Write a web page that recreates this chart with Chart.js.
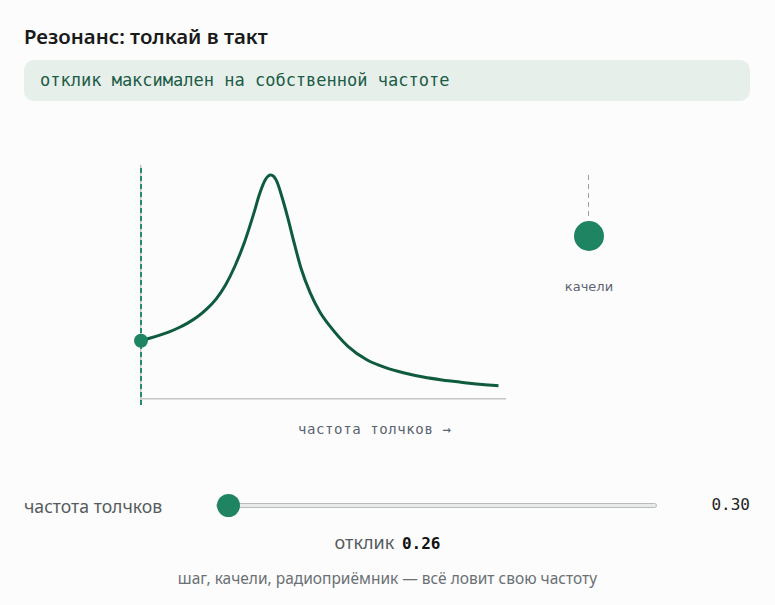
<!DOCTYPE html>
<html lang="ru">
<head>
<meta charset="utf-8">
<title>Резонанс</title>
<script src="https://cdn.jsdelivr.net/npm/chart.js@4.4.1/dist/chart.umd.min.js"></script>
<style>
  html, body { margin: 0; padding: 0; }
  body {
    width: 775px; height: 605px; position: relative; overflow: hidden;
    background: #fbfcfb;
    font-family: "Noto Sans", sans-serif;
  }
  .mono { font-family: "DejaVu Sans Mono", monospace; }
  #title { position: absolute; left: 24px; top: 22px; font-size: 20.4px; font-weight: 600; color: #1a1a1a; }
  #note {
    position: absolute; left: 24px; top: 60px; width: 726px; height: 41px;
    background: #e6efea; border-radius: 10px;
    box-sizing: border-box; padding-left: 16px; line-height: 41px;
    font-size: 17px; color: #1d5c47;
  }
  #chartBox { position: absolute; left: 121px; top: 150px; width: 400px; height: 270px; }
  #xTitle { position: absolute; left: 298px; top: 421px; font-size: 14px; letter-spacing: 0.6px; color: #5b6370; }
  #rope { position: absolute; left: 588px; top: 175px; width: 1px; height: 44px;
    background: repeating-linear-gradient(to bottom, #9a9fa4 0 5px, transparent 5px 9px); }
  #bob { position: absolute; left: 574px; top: 221px; width: 30px; height: 30px; border-radius: 50%; background: #1e8462; }
  #bobLabel { position: absolute; left: 539px; width: 100px; text-align: center; top: 279px; font-size: 13px; color: #5b6370;
    font-family: "DejaVu Sans", sans-serif; }
  #freqLabel { position: absolute; left: 24px; top: 494px; font-size: 17.6px; color: #555b60; }
  #freq {
    position: absolute; left: 216px; top: 494px; width: 441px; height: 22px; margin: 0;
    -webkit-appearance: none; appearance: none; background: transparent;
  }
  #freq::-webkit-slider-runnable-track {
    height: 5px; background: #e9eaea; border: 1px solid #b9bcbc; border-radius: 4px; box-sizing: border-box;
  }
  #freq::-webkit-slider-thumb {
    -webkit-appearance: none; width: 23px; height: 23px; border-radius: 50%; background: #1e8462; border: none; margin-top: -10px;
  }
  #freqVal { position: absolute; right: 25px; top: 495px; font-size: 16px; color: #222; }
  #resp { position: absolute; left: 0; width: 775px; text-align: center; top: 530px; font-size: 18px; color: #555b60; }
  #resp b { font-size: 16px; color: #111; margin-left: 3px; }
  #foot { position: absolute; left: 0; width: 775px; text-align: center; top: 567px; font-size: 15.5px; color: #6b7075; }
</style>
</head>
<body>
<div id="title">Резонанс: толкай в такт</div>
<div id="note" class="mono">отклик максимален на собственной частоте</div>
<div id="chartBox"><canvas id="resonanceChart" width="400" height="270"></canvas></div>
<div id="xTitle" class="mono">частота толчков →</div>
<div id="rope"></div>
<div id="bob"></div>
<div id="bobLabel">качели</div>
<div id="freqLabel">частота толчков</div>
<input id="freq" type="range" min="0.3" max="2.2" step="0.01" value="0.3">
<div id="freqVal" class="mono">0.30</div>
<div id="resp">отклик <b class="mono" id="respVal">0.26</b></div>
<div id="foot">шаг, качели, радиоприёмник — всё ловит свою частоту</div>

<script>
// push frequency (x) and amplitude response (y)
const frequencies = [0.3, 0.35, 0.4, 0.45, 0.5, 0.55, 0.6, 0.65, 0.7, 0.75, 0.8, 0.85, 0.9, 0.93, 0.96, 0.99,
  1.02, 1.05, 1.08, 1.11, 1.15, 1.2, 1.25, 1.3, 1.4, 1.5, 1.6, 1.7, 1.8, 1.9, 2.0, 2.1, 2.2];
const responses = [0.26, 0.272, 0.285, 0.30, 0.318, 0.34, 0.367, 0.402, 0.447, 0.51, 0.595, 0.70, 0.83, 0.915, 0.978, 1.0,
  0.975, 0.9, 0.81, 0.71, 0.585, 0.473, 0.39, 0.33, 0.235, 0.175, 0.14, 0.116, 0.098, 0.085, 0.075, 0.066, 0.059];

const freqMin = 0.3;
const freqMax = 2.24;
const respMin = -0.027;
const respMax = 1.045;

let pushFreq = 0.3;
let pushResp = 0.26;

document.addEventListener('DOMContentLoaded', function () {
  const ctx = document.getElementById('resonanceChart').getContext('2d');
  const slider = document.getElementById('freq');

  const curve = frequencies.map((f, i) => ({ x: f, y: responses[i] }));

  const chart = new Chart(ctx, {
    type: 'line',
    data: {
      datasets: [
        {
          label: 'толчок',
          data: [{ x: pushFreq, y: respMin }, { x: pushFreq, y: respMax }],
          borderColor: '#2a8a68',
          borderWidth: 2,
          borderDash: [5, 3],
          pointRadius: 0,
          order: 2
        },
        {
          label: 'отклик',
          data: curve,
          borderColor: '#0e5b3e',
          borderWidth: 3,
          pointRadius: 0,
          cubicInterpolationMode: 'monotone',
          order: 1
        },
        {
          label: 'сейчас',
          data: [{ x: pushFreq, y: pushResp }],
          pointRadius: 7,
          pointBackgroundColor: '#1e8462',
          pointBorderWidth: 0,
          showLine: false,
          order: 0
        }
      ]
    },
    options: {
      responsive: false,
      animation: false,
      clip: false,
      layout: { padding: { left: 20, top: 15, right: 15, bottom: 15 } },
      plugins: { legend: { display: false }, tooltip: { enabled: false } },
      scales: {
        x: {
          type: 'linear',
          min: freqMin,
          max: freqMax,
          afterBuildTicks: (scale) => { scale.ticks = [{ value: freqMin }]; },
          grid: { color: '#c4c6c4', lineWidth: 1.5, drawTicks: false },
          border: { display: false },
          ticks: { display: false }
        },
        y: {
          min: respMin,
          max: respMax,
          afterBuildTicks: (scale) => { scale.ticks = [{ value: 0 }]; },
          grid: { color: '#c4c6c4', lineWidth: 1.5, drawTicks: false },
          border: { display: false },
          ticks: { display: false }
        }
      }
    }
  });

  slider.addEventListener('input', function () {
    pushFreq = parseFloat(slider.value);
    let best = 0;
    frequencies.forEach((f, i) => {
      if (Math.abs(f - pushFreq) < Math.abs(frequencies[best] - pushFreq)) best = i;
    });
    pushResp = responses[best];
    chart.data.datasets[0].data = [{ x: pushFreq, y: respMin }, { x: pushFreq, y: respMax }];
    chart.data.datasets[2].data = [{ x: pushFreq, y: pushResp }];
    chart.update();
    document.getElementById('freqVal').textContent = pushFreq.toFixed(2);
    document.getElementById('respVal').textContent = pushResp.toFixed(2);
  });
});
</script>
</body>
</html>
